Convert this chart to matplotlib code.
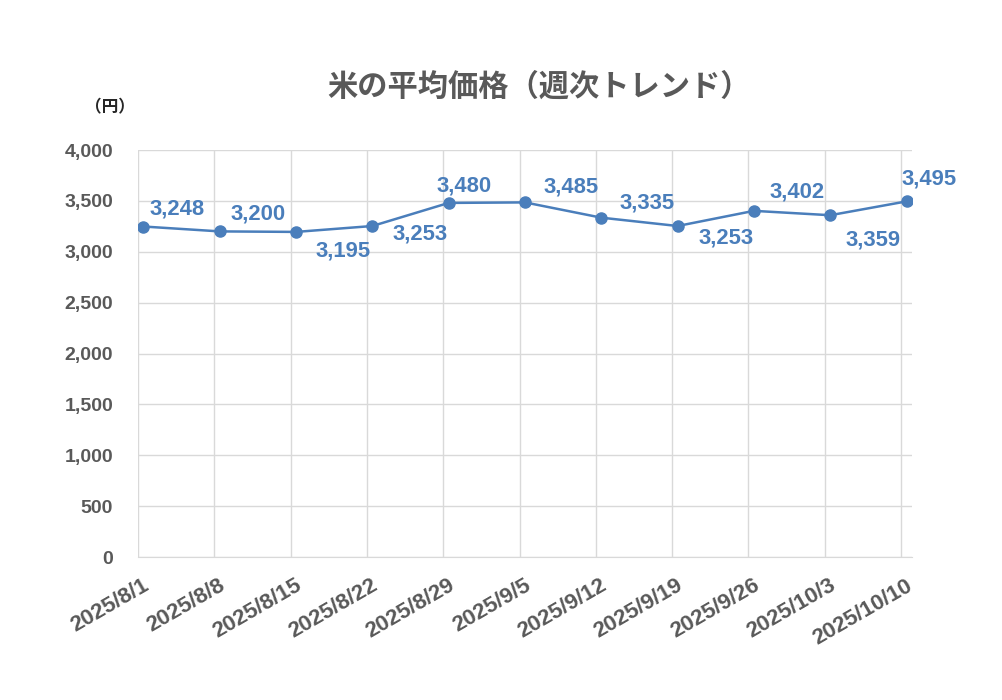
import matplotlib.pyplot as plt
import matplotlib.transforms as mtransforms
import numpy as np

# data
dates = ['2025/8/1', '2025/8/8', '2025/8/15', '2025/8/22', '2025/8/29', '2025/9/5',
         '2025/9/12', '2025/9/19', '2025/9/26', '2025/10/3', '2025/10/10']
day_offsets = [0, 7, 14, 21, 28, 35, 42, 49, 56, 63, 70]
prices = [3248, 3200, 3195, 3253, 3480, 3485, 3335, 3253, 3402, 3359, 3495]

# label placement (pixels from the marker)
label_dx = [34, 38, 47, 48, 15, 46, 46, 48, 43, 43, 23]
label_dy = [18, 17, -19, -8, 17, 15, 15, -12, 19, -25, 22]

blue = '#4A7EBB'
gray = '#595959'
grid = '#D9D9D9'
num_font = ['Liberation Sans', 'Noto Sans CJK JP']
jp_font = ['Noto Sans CJK JP', 'DejaVu Sans']

fig = plt.figure(figsize=(10.02, 7.0), dpi=100)
ax = fig.add_axes([138 / 1002, 1 - 557 / 700, (912 - 138) / 1002, (557 - 150) / 700])

# Excel date axis: each day is a slot, the point sits in the middle of it
x = np.array(day_offsets) + 0.5
ax.plot(x, prices, color=blue, lw=1.8, marker='o', ms=8, zorder=3)

for xi, yi, v, dx, dy in zip(x, prices, prices, label_dx, label_dy):
    ax.annotate(f'{v:,}', (xi, yi), xytext=(dx * 0.72, dy * 0.72), textcoords='offset points',
                ha='center', va='center', color=blue, fontsize=15.8,
                fontweight='bold', family=num_font)

ax.set_xlim(0, 71)
ax.set_ylim(0, 4000)
ax.set_yticks(np.arange(0, 4001, 500))
ax.set_yticklabels([f'{t:,}' for t in range(0, 4001, 500)])
ax.set_xticks(day_offsets)
ax.set_xticklabels(dates, rotation=30, ha='right', rotation_mode='anchor')

ax.grid(True, color=grid, lw=1)
ax.set_axisbelow(True)
for side in ['top', 'right', 'left']:
    ax.spines[side].set_visible(False)
ax.spines['bottom'].set_color(grid)
ax.tick_params(axis='both', length=0, colors=gray)
ax.tick_params(axis='y', pad=18)
ax.tick_params(axis='x', pad=10)
for lab in ax.get_yticklabels():
    lab.set_fontsize(14)
    lab.set_fontweight('bold')
    lab.set_family(num_font)
for lab in ax.get_xticklabels():
    lab.set_fontsize(16)
    lab.set_fontweight('bold')
    lab.set_family(num_font)
shift = mtransforms.ScaledTranslation(3 / 72, -3 / 72, fig.dpi_scale_trans)
for lab in ax.get_xticklabels():
    lab.set_transform(lab.get_transform() + shift)

fig.text(539 / 1002, 1 - 87 / 700, '米の平均価格（週次トレンド）', ha='center', va='center',
         fontsize=21.8, fontweight='bold', color=gray, family=jp_font)
fig.text(110 / 1002, 1 - 107 / 700, '（円）', ha='center', va='center',
         fontsize=12, fontweight='bold', color='#262626', family=jp_font)

fig.savefig('out.png', dpi=100, facecolor='white')
